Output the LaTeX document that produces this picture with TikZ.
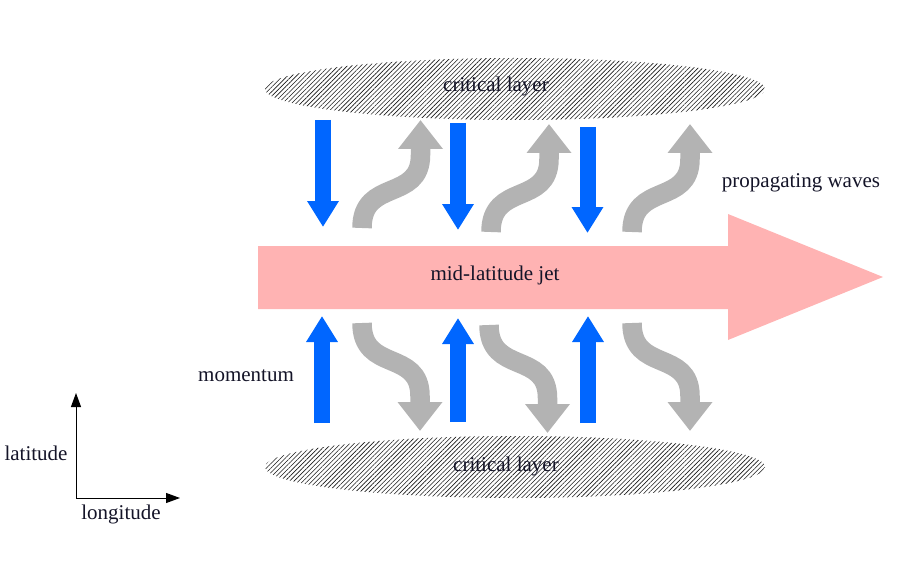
\documentclass[tikz,border=0pt]{standalone}
\usepackage{fontspec}
\setmainfont{Liberation Serif}
\usetikzlibrary{arrows.meta,patterns.meta}
\definecolor{jetpink}{RGB}{255,179,179}
\definecolor{momblue}{RGB}{0,102,255}
\definecolor{wavegray}{RGB}{179,179,179}
\definecolor{txt}{RGB}{20,20,40}
\tikzset{
  lbl/.style={text=txt,font=\fontsize{21}{25}\selectfont,inner sep=0pt},
  hatch/.style={pattern={Lines[angle=45,distance=3.2pt,line width=0.6pt]},pattern color=black!90},
  momarrow/.style={draw=momblue,line width=16pt,-{Triangle[width=30pt,length=26pt]}},
  wavearrow/.style={draw=wavegray,line width=19.5pt,-{Triangle[width=43pt,length=29pt]}},
  axisarrow/.style={draw=black,line width=1pt,-{Triangle[width=10pt,length=14pt]}}
}
\begin{document}
\begin{tikzpicture}[x=1pt,y=-1pt]
\useasboundingbox (0,0) rectangle (900,567);
% critical layers
\fill[hatch] (515,89) ellipse [x radius=250pt,y radius=31pt];
\fill[hatch] (515,467) ellipse [x radius=250pt,y radius=31pt];
% jet
\fill[jetpink] (258,246) -- (728,246) -- (728,214) -- (883,277) -- (728,340) -- (728,309) -- (258,309) -- cycle;
% momentum arrows (top, downward)
\coordinate (mt1a) at (323,120); \coordinate (mt1b) at (323,227);
\coordinate (mt2a) at (458,123); \coordinate (mt2b) at (458,230);
\coordinate (mt3a) at (587.5,127); \coordinate (mt3b) at (587.5,233);
\draw[momarrow] (mt1a) -- (mt1b);
\draw[momarrow] (mt2a) -- (mt2b);
\draw[momarrow] (mt3a) -- (mt3b);
% momentum arrows (bottom, upward)
\coordinate (mb1a) at (322,423); \coordinate (mb1b) at (322,316);
\coordinate (mb2a) at (458,422); \coordinate (mb2b) at (458,318);
\coordinate (mb3a) at (588,423); \coordinate (mb3b) at (588,316);
\draw[momarrow] (mb1a) -- (mb1b);
\draw[momarrow] (mb2a) -- (mb2b);
\draw[momarrow] (mb3a) -- (mb3b);
% propagating waves (top)
\draw[wavearrow] (362,228) .. controls (362,178) and (420.5,202) .. (420.5,155) -- (420.5,120);
\draw[wavearrow] (491,232) .. controls (491,182) and (549,206) .. (549,159) -- (549,124);
\draw[wavearrow] (632,232) .. controls (632,182) and (690,206) .. (690,159) -- (690,124);
% propagating waves (bottom)
\draw[wavearrow] (362,323) .. controls (362,373) and (420,349) .. (420,396) -- (420,431);
\draw[wavearrow] (489,325) .. controls (489,375) and (547.5,351) .. (547.5,398) -- (547.5,433);
\draw[wavearrow] (632,323) .. controls (632,373) and (690,349) .. (690,396) -- (690,431);
% axes
\coordinate (origin) at (76,498);
\coordinate (latend) at (76,393);
\coordinate (lonend) at (180,498);
\draw[axisarrow] (origin) -- (latend);
\draw[axisarrow] (origin) -- (lonend);
% labels
\node[lbl] (cltop) at (496,86) {critical layer};
\node[lbl] (clbot) at (506,466) {critical layer};
\node[lbl] (jet) at (495,275) {mid-latitude jet};
\node[lbl] (waves) at (801,183) {propagating waves};
\node[lbl] (mom) at (246,376) {momentum};
\node[lbl] (lat) at (36,453) {latitude};
\node[lbl] (lon) at (121,514) {longitude};
\end{tikzpicture}
\end{document}
